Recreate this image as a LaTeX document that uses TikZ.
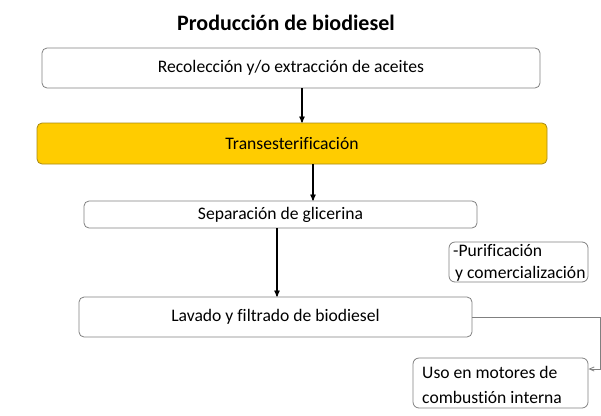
\documentclass[tikz,border=0pt]{standalone}
\usepackage{fontspec}
\setmainfont{Carlito}[Ligatures=NoCommon]
\usetikzlibrary{arrows,positioning,calc}

\definecolor{borde}{HTML}{808080}
\definecolor{amarillo}{HTML}{FFCC00}
\definecolor{bordeam}{HTML}{A88A14}

\begin{document}
\begin{tikzpicture}[>=stealth',x=1pt,y=-1pt,
    paso/.style={rectangle,draw=borde,rounded corners=5pt,line width=0.8pt,inner sep=0pt,
      font=\fontsize{17.6}{20}\selectfont},
    nota/.style={rectangle,draw=borde,rounded corners=6pt,line width=0.8pt,inner sep=0pt}]
    \useasboundingbox (0,0) rectangle (601,415);

    \node[font=\fontsize{22}{24}\selectfont\bfseries] (titulo) at (286,22.5) {Producción de biodiesel};

    \node[paso, minimum width=498pt, minimum height=40pt] (recoleccion) at (291,68)
      {Recolección y/o extracción de aceites};
    \node[paso, fill=amarillo, draw=bordeam, minimum width=510pt, minimum height=41pt] (trans) at (292,143.5)
      {Transesterificación};
    \node[paso, minimum width=393pt, minimum height=27pt] (separacion) at (280.5,214.5)
      {Separación de glicerina};
    \node[paso, minimum width=393pt, minimum height=40pt] (lavado) at (275.5,317)
      {Lavado y filtrado de biodiesel};

    \node[nota, minimum width=139pt, minimum height=40pt] (purif) at (518.5,262) {};
    \node[anchor=north west, align=left, inner sep=0pt, font=\fontsize{17.6}{21.5}\selectfont]
      (purift) at (453,244.5) {-Purificación\\\hspace{2pt}y comercialización};
    \node[nota, minimum width=175pt, minimum height=50pt] (uso) at (500.5,383) {};
    \node[anchor=west, align=left, inner sep=0pt, font=\fontsize{17.6}{25}\selectfont]
      (usot) at (422,384.5) {Uso en motores de\\combustión interna};

    \draw[->, line width=1.2pt] ([xshift=11pt]recoleccion.south) -- ([xshift=11pt]recoleccion.south |- trans.north);
    \draw[->, line width=1.2pt] ([xshift=21pt]trans.south) -- ([xshift=21pt]trans.south |- separacion.north);
    \draw[->, line width=1.2pt] ([xshift=-3.5pt]separacion.south) -- ([xshift=-3.5pt]separacion.south |- lavado.north);

    \coordinate (codo) at (600,317);
    \draw[->, >=angle 45, draw=borde, line width=0.8pt] (lavado.east) -- (codo) |- ([yshift=14pt]uso.east);
\end{tikzpicture}
\end{document}
